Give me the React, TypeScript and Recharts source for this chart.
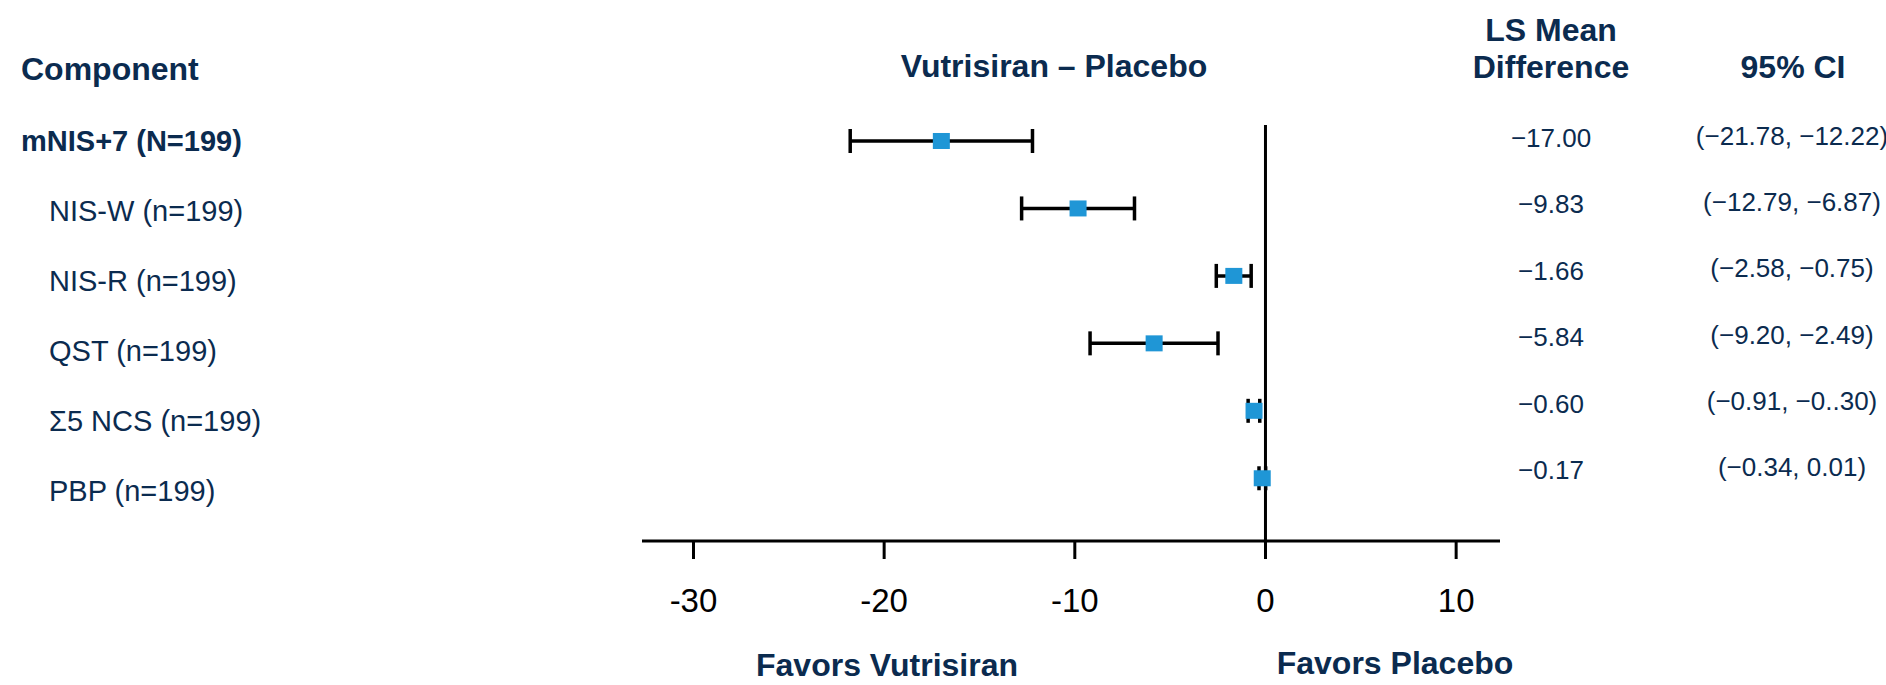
import { ScatterChart, Scatter, XAxis, YAxis, ErrorBar, ReferenceLine } from 'recharts';

// forest plot rows (top to bottom)
const components = ['mNIS+7 (N=199)', 'NIS-W (n=199)', 'NIS-R (n=199)', 'QST (n=199)', 'Σ5 NCS (n=199)', 'PBP (n=199)'];
const lsMean = [-17.0, -9.83, -1.66, -5.84, -0.6, -0.17];
const ciLow = [-21.78, -12.79, -2.58, -9.2, -0.91, -0.34];
const ciHigh = [-12.22, -6.87, -0.75, -2.49, -0.3, 0.01];
const lsMeanText = ['−17.00', '−9.83', '−1.66', '−5.84', '−0.60', '−0.17'];
const ciText = ['(−21.78, −12.22)', '(−12.79, −6.87)', '(−2.58, −0.75)', '(−9.20, −2.49)', '(−0.91, −0..30)', '(−0.34, 0.01)'];
const xTicks = [-30, -20, -10, 0, 10];

const NAVY = '#0b2b4f';
const BLUE = '#1f96d6';
const FONT = '"Liberation Sans", Arial, Helvetica, sans-serif';

const chartData = components.map((name, i) => ({
  name,
  row: i,
  mean: lsMean[i],
  err: [lsMean[i] - ciLow[i], ciHigh[i] - lsMean[i]],
}));

const Square = (props: any) => {
  const { cx, cy } = props;
  if (cx == null || cy == null) return null;
  return <rect x={cx - 8.5} y={cy - 8} width={17} height={16} fill={BLUE} />;
};

export default function App() {
  return (
    <div style={{ position: 'relative', width: 1886, height: 685, fontFamily: FONT, background: '#fff' }}>
      <style>{`body { margin: 0; }`}</style>
      <ScatterChart
        width={1886}
        height={685}
        margin={{ top: 125, right: 386, bottom: 84, left: 642 }}
      >
        <XAxis
          type="number"
          dataKey="mean"
          domain={[-32.7, 12.3]}
          ticks={xTicks}
          height={60}
          axisLine={{ stroke: '#000', strokeWidth: 3 }}
          tickLine={{ stroke: '#000', strokeWidth: 3 }}
          tickSize={18}
          tickMargin={30}
          tick={{ fontSize: 33, fill: '#000' }}
          allowDataOverflow
        />
        <YAxis type="number" dataKey="row" domain={[-0.237, 5.93]} reversed hide width={0} />
        <ReferenceLine x={0} stroke="#000" strokeWidth={3} />
        <Scatter data={chartData} shape={<Square />} isAnimationActive={false}>
          <ErrorBar dataKey="err" direction="x" width={12} stroke="#000" strokeWidth={3.5} />
        </Scatter>
      </ScatterChart>

      <svg
        width={1886}
        height={685}
        style={{ position: 'absolute', left: 0, top: 0, pointerEvents: 'none' }}
      >
        <g fill={NAVY} fontWeight="bold" fontSize={32} dominantBaseline="central">
          <text x={21} y={69}>Component</text>
          <text x={1054} y={66} textAnchor="middle">Vutrisiran – Placebo</text>
          <text x={1551} y={30} textAnchor="middle">LS Mean</text>
          <text x={1551} y={67} textAnchor="middle">Difference</text>
          <text x={1793} y={67} textAnchor="middle">95% CI</text>
          <text x={887} y={665} textAnchor="middle">Favors Vutrisiran</text>
          <text x={1395} y={663} textAnchor="middle">Favors Placebo</text>
        </g>
        <g fill={NAVY} dominantBaseline="central">
          {components.map((c, i) => (
            <text
              key={c}
              x={i === 0 ? 21 : 49}
              y={141 + i * 70}
              fontSize={29}
              fontWeight={i === 0 ? 'bold' : 'normal'}
            >
              {c}
            </text>
          ))}
          {lsMeanText.map((t, i) => (
            <text key={'m' + i} x={1551} y={138 + i * 66.4} fontSize={26} textAnchor="middle">
              {t}
            </text>
          ))}
          {ciText.map((t, i) => (
            <text key={'c' + i} x={1792} y={136 + i * 66.2} fontSize={26} textAnchor="middle">
              {t}
            </text>
          ))}
        </g>
      </svg>
    </div>
  );
}
